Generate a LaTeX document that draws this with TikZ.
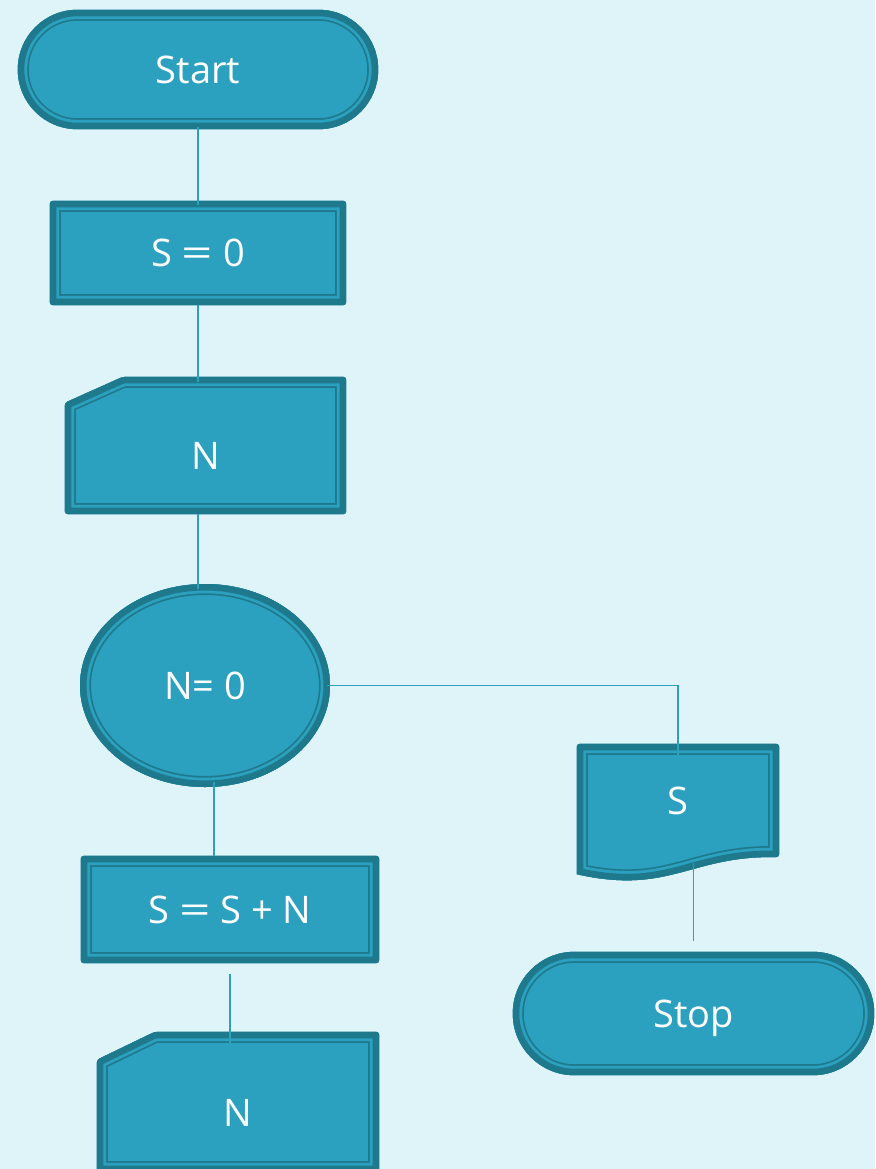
\documentclass[tikz,border=0pt]{standalone}
\usepackage{graphicx}
\usepackage{fontspec}
\setmainfont{Open Sans}
\usetikzlibrary{shapes.geometric,calc}

\definecolor{bgc}{HTML}{DFF4F9}
\definecolor{fillc}{HTML}{2BA1BF}
\definecolor{darkc}{HTML}{1F798C}

\pgfdeclarelayer{back}
\pgfdeclarelayer{shapes}
\pgfsetlayers{back,shapes,main}

% wide equals sign
\newcommand\wideq{\scalebox{1.45}[1]{=}}

% Filled outline with a thick dark rim, a light strip and a thin dark inner line
\newcommand\flowshape[2][]{%
  \begin{pgfonlayer}{shapes}
    \begin{scope}
      \clip[#1] #2;
      \fill[fillc,#1] #2;
      \draw[darkc,line width=22pt,#1] #2;
      \draw[fillc,line width=18.6pt,#1] #2;
      \draw[darkc,line width=13pt,#1] #2;
    \end{scope}
  \end{pgfonlayer}}

\begin{document}
\begin{tikzpicture}[x=1pt,y=-1pt,
  box/.style={draw=none, inner sep=0pt, text=white,
    font=\fontsize{38}{42}\selectfont, text height=27.1pt, text depth=0pt},
  conn/.style={draw=fillc, line width=1.5pt}]

\useasboundingbox (0,0) rectangle (875,1169);
\begin{pgfonlayer}{back}
  \fill[bgc] (0,0) rectangle (875,1169);
\end{pgfonlayer}

% nodes
\node[box, minimum width=360pt, minimum height=119pt] (start) at (198,69.5) {Start};
\node[box, minimum width=296pt, minimum height=104pt] (s0) at (198,253) {S \wideq{} 0};
\node[box, minimum width=281pt, minimum height=137pt, text height=47.1pt] (inp1) at (205.5,445.5) {N};
\node[box, ellipse, minimum width=250pt, minimum height=203pt] (dec) at (205,685.5) {N= 0};
\node[box, minimum width=202pt, minimum height=113pt] (doc) at (678,800.5) {S};
\node[box, minimum width=298pt, minimum height=107pt] (calc) at (230,909.5) {S \wideq{} S + N};
\node[box, minimum width=361pt, minimum height=123pt] (stop) at (693.5,1013.5) {Stop};
\node[box, minimum width=282pt, minimum height=140pt, text height=49.1pt] (inp2) at (238,1102) {N};

% outlines
\flowshape[rounded corners=59.5pt]{(start.south west) rectangle (start.north east)}
\flowshape[rounded corners=3pt]{(s0.south west) rectangle (s0.north east)}
\flowshape[rounded corners=3pt]{(inp1.south west) -- ([yshift=-26pt]inp1.north west) -- ([xshift=58pt]inp1.north west) -- (inp1.north east) -- (inp1.south east) -- cycle}
\flowshape{(dec.center) ellipse [x radius=125pt, y radius=101.5pt]}
\flowshape{(doc.south east) .. controls +(-89,-2) and +(93,21) .. ([yshift=-17pt]doc.south west) [rounded corners=3pt] -- (doc.north west) -- (doc.north east) -- cycle}
\flowshape[rounded corners=3pt]{(calc.south west) rectangle (calc.north east)}
\flowshape[rounded corners=61.5pt]{(stop.south west) rectangle (stop.north east)}
\flowshape[rounded corners=3pt]{(inp2.south west) -- ([yshift=-28pt]inp2.north west) -- ([xshift=58pt]inp2.north west) -- (inp2.north east) -- (inp2.south east) -- cycle}

% connectors
\draw[conn] ([yshift=2pt]start.south) -- ([yshift=-4pt]s0.north);
\draw[conn] (s0.south) -- ([yshift=-5pt]s0.south |- inp1.north);
\draw[conn] (s0.south |- inp1.south) -- ([yshift=-5pt]s0.south |- dec.north);
\draw[conn] ([xshift=9pt,yshift=5pt]dec.south) -- ([xshift=9pt]dec.south |- calc.north);
\draw[conn] ([xshift=-3pt]dec.east) -| ([yshift=-11pt]doc.north);
\draw[conn] ([xshift=15.5pt,yshift=-6pt]doc.south) -- ([yshift=11pt]stop.north);
\draw[conn] ([yshift=-11pt]calc.south) -- ([yshift=-11pt]calc.south |- inp2.north);

\end{tikzpicture}
\end{document}
